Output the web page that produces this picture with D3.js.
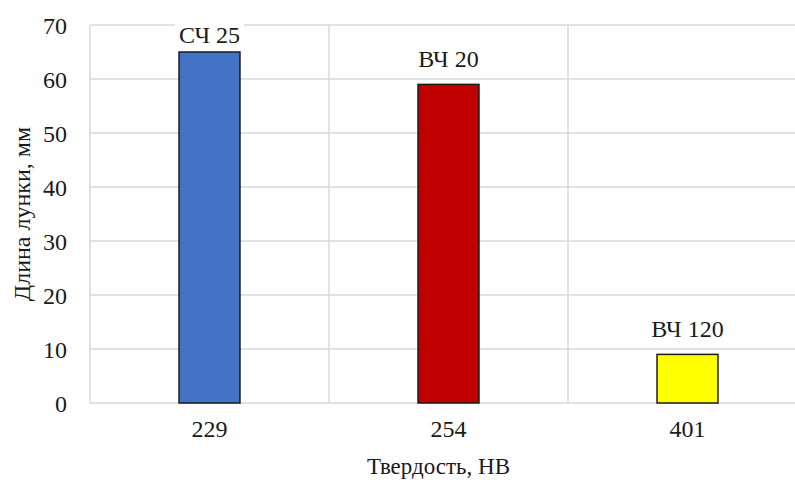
<!DOCTYPE html>
<html>
<head>
<meta charset="utf-8">
<script src="https://cdn.jsdelivr.net/npm/d3@7/dist/d3.min.js"></script>
<style>
  html, body { margin: 0; padding: 0; background: #fff; }
  svg { display: block; }
</style>
</head>
<body>
<svg id="chart" width="795" height="480"></svg>
<script>
// Hardness categories (HB), crater length and alloy grade per bar
const hardness = ["229", "254", "401"];
const craterLength = [65, 59, 9];
const grades = ["СЧ 25", "ВЧ 20", "ВЧ 120"];
const barColors = ["#4472c4", "#c00000", "#ffff00"];
const yTicks = [0, 10, 20, 30, 40, 50, 60, 70];

const FONT = '"Liberation Serif"';
const FS = 24;
const INK = "#1a1a1a";

const svg = d3.select("#chart");
const plotLeft = 90, plotRight = 807, plotTop = 25, plotBottom = 403;

const x = d3.scaleBand().domain(hardness).range([plotLeft, plotRight]).padding(0);
const y = d3.scaleLinear().domain([0, 70]).range([plotBottom, plotTop]);

function styleText(sel, size = FS) {
  sel.attr("font-size", size).style("font-family", FONT).style("fill", INK);
}

// horizontal grid
svg.append("g")
  .selectAll("line")
  .data(yTicks)
  .join("line")
  .attr("x1", plotLeft).attr("x2", plotRight)
  .attr("y1", d => y(d)).attr("y2", d => y(d))
  .attr("stroke", "#d9d9d9").attr("stroke-width", 1.5);

// vertical grid at category boundaries
const bounds = hardness.map(h => x(h)).concat([plotRight]);
svg.append("g")
  .selectAll("line")
  .data(bounds)
  .join("line")
  .attr("x1", d => d).attr("x2", d => d)
  .attr("y1", plotTop).attr("y2", plotBottom)
  .attr("stroke", "#d9d9d9").attr("stroke-width", 1.5);

// y axis tick labels
const yAxis = d3.axisLeft(y).tickValues(yTicks).tickSize(0).tickPadding(0);
const gy = svg.append("g").attr("transform", `translate(${plotLeft - 23},0)`).call(yAxis)
  .attr("font-family", null).attr("font-size", null);
gy.select(".domain").remove();
gy.selectAll("text").call(styleText).attr("dy", "0.35em");

// x axis tick labels
const xAxis = d3.axisBottom(x).tickSize(0).tickPadding(0);
const gx = svg.append("g").attr("transform", `translate(0,${plotBottom + 17})`).call(xAxis)
  .attr("font-family", null).attr("font-size", null);
gx.select(".domain").remove();
gx.selectAll("text").call(styleText).attr("dy", "0.71em");

// bars
const bw = x.bandwidth() * 0.255;
svg.append("g")
  .selectAll("rect")
  .data(hardness)
  .join("rect")
  .attr("x", (d) => x(d) + x.bandwidth() / 2 - bw / 2)
  .attr("y", (d, i) => y(craterLength[i]))
  .attr("width", bw)
  .attr("height", (d, i) => y(0) - y(craterLength[i]))
  .attr("fill", (d, i) => barColors[i])
  .attr("stroke", INK).attr("stroke-width", 1.5);

// grade labels above bars, kept inside the plot area
const labels = svg.append("g")
  .selectAll("g")
  .data(hardness)
  .join("g")
  .attr("transform", (d, i) => {
    const by = Math.max(y(craterLength[i]) - 17, plotTop + 18);
    return `translate(${x(d) + x.bandwidth() / 2},${by})`;
  });
labels.append("text")
  .attr("text-anchor", "middle")
  .call(styleText)
  .text((d, i) => grades[i])
  .each(function () {
    const b = this.getBBox();
    d3.select(this.parentNode).insert("rect", "text")
      .attr("x", b.x - 4).attr("y", b.y).attr("width", b.width + 8).attr("height", b.height)
      .attr("fill", "#fff");
  });

// axis titles
svg.append("text")
  .attr("transform", `translate(30,214) rotate(-90)`)
  .attr("text-anchor", "middle")
  .call(styleText)
  .text("Длина лунки, мм");

svg.append("text")
  .attr("x", (plotLeft + plotRight) / 2 - 10).attr("y", 474)
  .attr("text-anchor", "middle")
  .call(styleText, 23)
  .text("Твердость, НВ");
</script>
</body>
</html>
